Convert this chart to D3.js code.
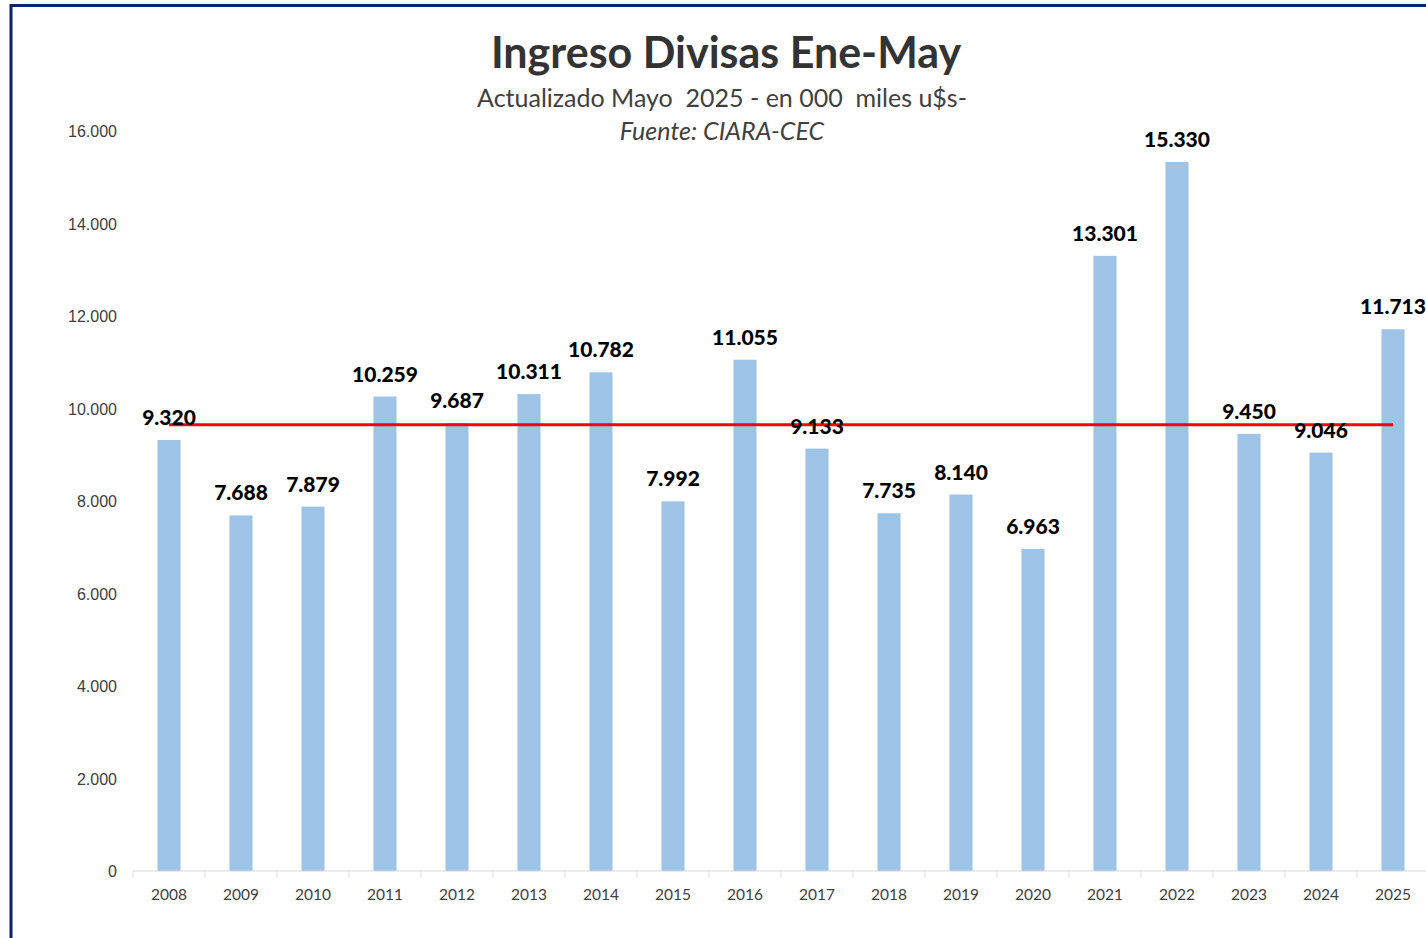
<!DOCTYPE html>
<html>
<head>
<meta charset="utf-8">
<script src="https://cdn.jsdelivr.net/npm/d3@7"></script>
<style>
  body { margin: 0; background: #fff; }
  svg { display: block; font-family: Lato, "Open Sans", sans-serif; }
  .tick text { fill: #404040; }
</style>
</head>
<body>
<div id="chart"></div>
<script>
// data
let years = ["2008", "2009", "2010", "2011", "2012", "2013", "2014", "2015", "2016",
  "2017", "2018", "2019", "2020", "2021", "2022", "2023", "2024", "2025"];
let ingreso = [9320, 7688, 7879, 10259, 9687, 10311, 10782, 7992, 11055,
  9133, 7735, 8140, 6963, 13301, 15330, 9450, 9046, 11713];
let yTicks = [0, 2000, 4000, 6000, 8000, 10000, 12000, 14000, 16000];

// red line = average of 2008-2024
let promedio = d3.mean(ingreso.slice(0, ingreso.length - 1));

let width = 1426, height = 938;
let fmt = d3.formatLocale({ decimal: ",", thousands: ".", grouping: [3], currency: ["", ""] }).format(",.0f");

let svg = d3.select("#chart").append("svg")
  .attr("width", width)
  .attr("height", height);

// outer frame (only top and left are visible in the crop)
svg.append("rect")
  .attr("x", 11)
  .attr("y", 5.5)
  .attr("width", 1600)
  .attr("height", 1200)
  .attr("fill", "none")
  .attr("stroke", "#0b2566")
  .attr("stroke-width", 3);

let x = d3.scaleBand()
  .domain(years)
  .range([133, 1429])
  .paddingInner(0.68)
  .paddingOuter(0.34);

let y = d3.scaleLinear()
  .domain([0, 16000])
  .range([871, 131]);

// y axis: labels only
let yAxis = svg.append("g")
  .attr("transform", "translate(117,0)")
  .call(d3.axisLeft(y).tickValues(yTicks).tickSize(0).tickPadding(0).tickFormat(fmt));
yAxis.select(".domain").remove();
yAxis.selectAll("text").attr("font-size", 16).attr("dy", "0.35em");

// bars
svg.append("g").selectAll("rect")
  .data(ingreso)
  .enter()
  .append("rect")
  .attr("x", (d, i) => x(years[i]))
  .attr("y", d => y(d))
  .attr("width", x.bandwidth())
  .attr("height", d => y(0) - y(d))
  .attr("fill", "#9dc3e6");

// x axis with tick marks between the categories
let xAxis = svg.append("g")
  .attr("transform", "translate(0,871)");
xAxis.append("line")
  .attr("x1", 133)
  .attr("x2", 1429)
  .attr("stroke", "#d9d9d9")
  .attr("stroke-width", 1);
xAxis.selectAll("line.sep")
  .data(years)
  .enter()
  .append("line")
  .attr("class", "sep")
  .attr("x1", d => x(d) - x.step() * x.paddingOuter())
  .attr("x2", d => x(d) - x.step() * x.paddingOuter())
  .attr("y1", 0)
  .attr("y2", 6)
  .attr("stroke", "#d9d9d9");
xAxis.selectAll("text")
  .data(years)
  .enter()
  .append("text")
  .attr("x", d => x(d) + x.bandwidth() / 2)
  .attr("y", 29)
  .attr("text-anchor", "middle")
  .attr("font-size", 15.5)
  .attr("fill", "#404040")
  .text(d => d);

// average line
svg.append("line")
  .attr("x1", x(years[0]) + x.bandwidth() / 2)
  .attr("x2", x(years[years.length - 1]) + x.bandwidth() / 2)
  .attr("y1", y(promedio))
  .attr("y2", y(promedio))
  .attr("stroke", "#ff0000")
  .attr("stroke-width", 3);

// value labels
svg.append("g").selectAll("text")
  .data(ingreso)
  .enter()
  .append("text")
  .attr("x", (d, i) => x(years[i]) + x.bandwidth() / 2)
  .attr("y", d => y(d) - 15)
  .attr("text-anchor", "middle")
  .attr("font-size", 21)
  .attr("font-weight", 900)
  .attr("fill", "#000")
  .text(d => fmt(d));

// titles
svg.append("text")
  .attr("x", 726)
  .attr("y", 68)
  .attr("text-anchor", "middle")
  .attr("font-size", 43)
  .attr("font-weight", "bold")
  .attr("fill", "#333333")
  .text("Ingreso Divisas Ene-May");

svg.append("text")
  .attr("x", 722)
  .attr("y", 107)
  .attr("text-anchor", "middle")
  .attr("font-size", 25)
  .attr("fill", "#404040")
  .attr("xml:space", "preserve")
  .style("white-space", "pre")
  .text("Actualizado Mayo  2025 - en 000  miles u$s-");

svg.append("text")
  .attr("x", 722)
  .attr("y", 140)
  .attr("text-anchor", "middle")
  .attr("font-size", 25)
  .attr("font-style", "italic")
  .attr("fill", "#404040")
  .text("Fuente: CIARA-CEC");
</script>
</body>
</html>
